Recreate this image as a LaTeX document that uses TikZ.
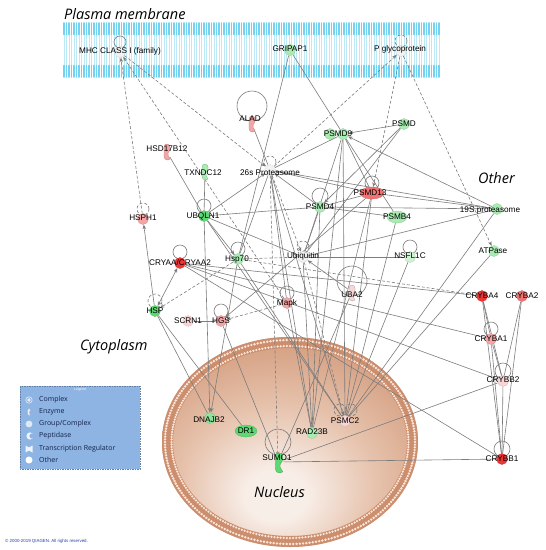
\documentclass[tikz,border=0pt]{standalone}
\usepackage{fontspec}
\setmainfont{Liberation Sans}
\newfontfamily\titlefont{Open Sans}
\usetikzlibrary{arrows.meta,shapes.geometric,calc}
\definecolor{edgegray}{HTML}{7C7C7C}
\definecolor{sgreen}{HTML}{5ED872}
\definecolor{mgreen}{HTML}{8FE39C}
\definecolor{lgreen}{HTML}{A9ECB2}
\definecolor{vlgreen}{HTML}{CDF3D2}
\definecolor{sred}{HTML}{EE3535}
\definecolor{mred}{HTML}{F07272}
\definecolor{lpink}{HTML}{F4A6A6}
\definecolor{vlpink}{HTML}{F9D6D6}
\definecolor{wgray}{HTML}{F2F2F2}
\definecolor{mcyan}{HTML}{6FD3F1}
\definecolor{mlight}{HTML}{BDE9F7}
\definecolor{nucin}{HTML}{F8EEE8}
\definecolor{nucmid}{HTML}{E6C2AC}
\definecolor{nucdark}{HTML}{D39C7D}
\definecolor{nucout}{HTML}{C58565}
\definecolor{nband}{HTML}{CB8E6F}
\definecolor{ndot}{HTML}{FDE6D7}
\definecolor{legfill}{HTML}{8EB4E3}
\definecolor{legtext}{HTML}{14224A}
\pgfdeclareradialshading{nucshade}{\pgfpoint{-3bp}{-14bp}}{color(0bp)=(nucin); color(6bp)=(nucin); color(19bp)=(nucmid); color(33bp)=(nucdark); color(46bp)=(nucout); color(70bp)=(nucout)}
\newcommand\selfloop[4][]{\draw[ln,#1] ([yshift=#4pt]#2.center) circle[radius=#3pt];}
\newcommand\enzyme[3][1]{\fill[#3,draw=#3!75!black,line width=0.3pt,shift={(#2)},scale=#1] (0,-8) .. controls (4,-8) and (4,-2) .. (1,1) .. controls (0,3) and (2,5) .. (3,7) .. controls (1,9) and (-3,8) .. (-3,4) .. controls (-3,1) and (-3,-1) .. (-3,-4) .. controls (-3,-7) and (-2,-8) .. (0,-8) -- cycle;}
\tikzset{
  pc/.style={circle, minimum size=11pt, inner sep=0pt},
  pe/.style={ellipse, minimum width=#1, minimum height=12pt, inner sep=0pt},
  gn/.style={pc, fill=#1, draw=#1!85!black, line width=0.3pt},
  gov/.style={ellipse, minimum height=12pt, inner sep=0pt, fill=#1, draw=#1!85!black, line width=0.3pt},
  lbl/.style={font=\fontsize{8.2}{9}\selectfont, inner sep=0pt},
  ln/.style={draw=edgegray, line width=0.6pt},
  dln/.style={ln, dash pattern=on 3pt off 2pt},
  arr/.style={-{Stealth[length=4.5pt,width=3.6pt]}},
  barr/.style={{Stealth[length=4.5pt,width=3.6pt]}-{Stealth[length=4.5pt,width=3.6pt]}},
  ttl/.style={font=\titlefont\itshape\fontsize{14.5}{16}\selectfont, inner sep=0pt, anchor=base west},
  legt/.style={font=\titlefont\fontsize{7}{8}\selectfont, text=legtext, inner sep=0pt, anchor=west},
}
\begin{document}
\begin{tikzpicture}[x=1pt,y=-1pt]
\useasboundingbox (0,0) rectangle (546,550);
\fill[white] (0,0) rectangle (546,550);
% plasma membrane
\foreach \i in {0,...,150}{
  \draw[mlight, line width=1.0pt] ({64+2.5*\i},33) -- ({64+2.5*\i},67);
  \draw[mcyan, line width=1.9pt, line cap=round] ({64+2.5*\i},23) -- ({64+2.5*\i},34.5);
  \draw[mcyan, line width=1.9pt, line cap=round] ({64+2.5*\i},65.5) -- ({64+2.5*\i},77);
}
% nucleus
\shade[shading=nucshade] (290,442) ellipse [x radius=128pt, y radius=105pt];
\draw[nband, line width=11pt] (290,442) ellipse [x radius=122.5pt, y radius=99.5pt];
\foreach \a in {0,1.5,...,358.5}{
  \fill[ndot] ({290+125*cos(\a)},{442+102*sin(\a)}) circle[radius=1.35pt];
  \fill[ndot] ({290+118.5*cos(\a)},{442+96*sin(\a)}) circle[radius=1.25pt];
}
% legend box
\draw[legfill!70!black, fill=legfill, line width=0.5pt, dash pattern=on 1.5pt off 1pt] (20,386) rectangle (140,469);

% titles
\node[ttl] (tpm) at (64,19) {Plasma membrane};
\node[ttl] (toth) at (478,183) {Other};
\node[ttl] (tcyt) at (80,350) {Cytoplasm};
\node[ttl] (tnuc) at (254,497) {Nucleus};

% anchor nodes (positions of the genes)
\path
 node[pc] (mhc) at (120,52) {}
 node[pc] (pgly) at (401,51) {}
 node[pc] (grip) at (290,50) {}
 node[pc] (alad) at (252,124) {}
 node[pc] (hsd) at (167,152) {}
 node[pc] (txn) at (205,172) {}
 node[pc] (p26) at (270,170) {}
 node[pc] (ubq) at (204,216) {}
 node[pc] (hsph) at (143,219) {}
 node[pc] (psmd9) at (343,134) {}
 node[pc] (psmd) at (404,124) {}
 node[pe=24pt] (psmd13) at (372,193) {}
 node[pc] (psmd4) at (320,207) {}
 node[pe=20pt] (psmb4) at (397,217) {}
 node[pc] (s19) at (497,209) {}
 node[pc] (atp) at (494,251) {}
 node[pc] (nsf) at (410,257) {}
 node[pc] (ubi) at (303,257) {}
 node[pc] (hsp70) at (238,259) {}
 node[pc] (mapk) at (287,303) {}
 node[pc] (uba2) at (352,292) {}
 node[pc] (cryaa) at (180,263) {}
 node[pc] (hsp) at (155,311) {}
 node[pc] (scrn) at (188,321) {}
 node[pc] (hgs) at (221,321) {}
 node[pc] (cba4) at (482,296) {}
 node[pc] (cba2) at (522,296) {}
 node[pc] (cba1) at (491,339) {}
 node[pc] (cbb2) at (503,381) {}
 node[pc] (cbb1) at (502,459) {}
 node[pc] (dnaj) at (210,418) {}
 node[pe=22pt] (dr1) at (246,431) {}
 node[pc] (sumo) at (278,462) {}
 node[pc] (rad) at (312,433) {}
 node[pc] (psmc) at (345,421) {};

% self loops
\selfloop{mhc}{6}{10}
\selfloop[dln]{pgly}{6}{10}
\selfloop{alad}{15}{18}
\selfloop[dln]{p26}{6}{8}
\selfloop{ubq}{7}{10}
\selfloop[dln]{hsph}{6}{10}
\selfloop{psmd13}{7}{10}
\selfloop{psmd4}{8}{11}
\selfloop{nsf}{7}{10}
\selfloop[dln]{ubi}{6}{10}
\selfloop{hsp70}{7}{10}
\selfloop{mapk}{7}{10}
\selfloop{uba2}{15}{11}
\selfloop{cryaa}{7}{11}
\selfloop[dln]{hsp}{7}{10}
\selfloop{hgs}{7}{10}
\selfloop{cba1}{7}{10}
\selfloop{cbb2}{8}{10}
\selfloop{cbb1}{8}{10}
\selfloop{sumo}{13}{20}
\draw[dln] ([xshift=-5pt,yshift=11pt]psmc.center) circle[radius=6pt];
\draw[dln] ([xshift=6pt,yshift=11pt]psmc.center) circle[radius=6pt];
% dashed edges
\draw[dln,arr] (hsph) -- (mhc);
\draw[dln,arr] (mapk) -- (mhc);
\draw[dln,arr] (mhc) -- (p26);
\draw[dln,arr] (p26) -- (pgly);
\draw[dln,arr] (pgly) -- (psmd13);
\draw[dln,arr] (pgly) -- (atp);
\draw[dln,arr] (p26) -- (sumo);
\draw[dln,arr] (p26) -- (ubi);
\draw[dln] (ubi) -- (hsp70);
\draw[dln,arr] (hsp70) -- (hsp);
\draw[dln,arr] (mapk) -- (hgs);
\draw[dln] (hsp70) -- (cba4);
\draw[dln,arr] (ubi) -- (psmc);
% solid edges
\draw[ln] (grip) -- (hsp70);
\draw[ln] (grip) -- (psmd9);
\draw[ln] (alad) -- (p26);
\draw[ln] (hsd) -- (ubq);
\draw[ln] (txn) -- (ubq);
\draw[ln,arr] (ubq) -- (p26);
\draw[ln] (ubq) -- (psmd4);
\draw[ln,arr] (ubq) -- (hsp70);
\draw[ln,arr] (ubq) -- (dnaj);
\draw[ln] (ubq) -- (ubi);
\draw[ln] (ubq) -- (psmc);
\draw[ln,arr] (hsp) -- (hsph);
\draw[ln,barr] (hsp) -- (cryaa);
\draw[ln] (hsp) -- (dnaj);
\draw[ln] (hsp) -- (dr1);
\draw[ln] (cryaa) -- (cba1);
\draw[ln] (cryaa) -- (cbb2);
\draw[ln] (cryaa) -- (cbb1);
\draw[ln] (cryaa) -- (cba4);
\draw[ln] (hgs) -- (scrn);
\draw[ln,arr] (psmd13) -- (hgs);
\draw[ln] (hgs) -- (sumo);
\draw[ln] (p26) -- (psmd9);
\draw[ln] (p26) -- (psmd13);
\draw[ln,arr] (psmd4) -- (p26);
\draw[ln] (p26) -- (s19);
\draw[ln] (p26) -- (psmc);
\draw[ln] (p26) -- (rad);
\draw[ln] (p26) -- (hsp70);
\draw[ln] (p26) -- (mapk);
\draw[ln,arr] (psmd) -- (psmd9);
\draw[ln] (psmd9) -- (psmd13);
\draw[ln] (psmd9) -- (psmb4);
\draw[ln,arr] (s19) -- (psmd9);
\draw[ln] (psmd9) -- (ubi);
\draw[ln] (psmd9) -- (rad);
\draw[ln] (psmd9) -- (psmc);
\draw[ln,arr] (psmd) -- (psmd4);
\draw[ln] (psmd) -- (ubi);
\draw[ln] (psmd13) -- (psmd4);
\draw[ln] (psmd13) -- (s19);
\draw[ln] (psmd13) -- (psmc);
\draw[ln] (psmd13) -- (rad);
\draw[ln] (psmd4) -- (s19);
\draw[ln] (psmd4) -- (psmb4);
\draw[ln] (psmd4) -- (ubi);
\draw[ln] (psmd4) -- (rad);
\draw[ln] (psmb4) -- (psmc);
\draw[ln] (s19) -- (ubi);
\draw[ln] (s19) -- (psmc);
\draw[ln] (atp) -- (psmc);
\draw[ln] (nsf) -- (psmc);
\draw[ln] (nsf) -- (ubi);
\draw[ln] (ubi) -- (rad);
\draw[ln,arr] (uba2) -- (ubi);
\draw[ln] (uba2) -- (sumo);
\draw[ln] (mapk) -- (rad);
\draw[ln,arr] (hsp70) -- (dnaj);
\draw[ln] (hsp70) -- (psmc);
\draw[ln] (cba4) -- (cba1);
\draw[ln] (cba4) -- (cbb2);
\draw[ln] (cba4) -- (cbb1);
\draw[ln] (cba2) -- (cbb2);
\draw[ln] (cba2) -- (cbb1);
\draw[ln] (cba1) -- (cbb1);
\draw[ln] (cba1) -- (cbb2);
\draw[ln] (cbb2) -- (cbb1);
\draw[ln] (cbb2) -- (sumo);
\draw[ln] (cbb1) -- (sumo);

% visible gene shapes
\node[gn=wgray] (mhcS) at (mhc) {};
\node[gn=wgray] (pglyS) at (pgly) {};
\node[gn=lgreen] (gripS) at (grip) {};
\node[gn=wgray, dash pattern=on 1.5pt off 1pt] (p26S) at (p26) {};
\node[gn=sgreen] (ubqS) at (ubq) {};
\node[gn=lpink] (hsphS) at (hsph) {};
\node[gn=lgreen] (psmd9b) at (330,134) {};
\node[gn=lgreen] (psmd9S) at (psmd9) {};
\node[gn=lgreen] (psmdS) at (psmd) {};
\node[gov=mred, minimum width=24pt] (psmd13S) at (psmd13) {};
\node[gn=lgreen] (psmd4S) at (psmd4) {};
\node[gov=lgreen, minimum width=20pt] (psmb4S) at (psmb4) {};
\node[gn=lgreen] (s19S) at (s19) {};
\node[gn=lgreen] (atpS) at (atp) {};
\node[gn=vlgreen] (nsfS) at (nsf) {};
\node[gn=wgray] (ubiS) at (ubi) {};
\node[gn=lgreen] (hsp70S) at (hsp70) {};
\node[gn=lpink] (mapkS) at (mapk) {};
\node[gn=sred] (cryaaS) at (cryaa) {};
\node[gn=sgreen] (hspS) at (hsp) {};
\node[gn=vlpink, dash pattern=on 1.5pt off 1pt] (scrnS) at (scrn) {};
\node[gn=lpink] (hgsS) at (hgs) {};
\node[gn=sred] (cba4S) at (cba4) {};
\node[gn=mred] (cba2S) at (cba2) {};
\node[gn=lpink] (cba1S) at (cba1) {};
\node[gn=vlpink] (cbb2S) at (cbb2) {};
\node[gn=sred] (cbb1S) at (cbb1) {};
\node[gn=mgreen] (dnajS) at (dnaj) {};
\node[gov=sgreen, minimum width=22pt] (dr1S) at (dr1) {};
\node[gn=lgreen] (radS) at (rad) {};
\node[gn=vlpink] (psmcS) at (psmc) {};
\enzyme{252,124}{lpink}
\enzyme{167,152}{lpink}
\enzyme{205,172}{lgreen}
\enzyme{352,293}{vlpink}
\enzyme[1.25]{279,463}{sgreen}

% labels
\node[lbl] (mhcT) at (120,51) {MHC CLASS I (family)};
\node[lbl] (pglyT) at (400,49) {P glycoprotein};
\node[lbl] (gripT) at (290,49) {GRIPAP1};
\node[lbl] (aladT) at (250,119) {ALAD};
\node[lbl] (hsdT) at (167,149) {HSD17B12};
\node[lbl] (txnT) at (203,173) {TXNDC12};
\node[lbl] (p26T) at (270,173) {26s Proteasome};
\node[lbl] (ubqT) at (203,216) {UBQLN1};
\node[lbl] (hsphT) at (143,218) {HSPH1};
\node[lbl] (psmd9T) at (338,134) {PSMD9};
\node[lbl] (psmdT) at (404,124) {PSMD};
\node[lbl] (psmd13T) at (370,193) {PSMD13};
\node[lbl] (psmd4T) at (320,207) {PSMD4};
\node[lbl] (psmb4T) at (397,217) {PSMB4};
\node[lbl] (s19T) at (490,210) {19S proteasome};
\node[lbl] (atpT) at (493,251) {ATPase};
\node[lbl] (nsfT) at (410,256) {NSFL1C};
\node[lbl] (ubiT) at (303,256) {Ubiquitin};
\node[lbl] (hsp70T) at (237,259) {Hsp70};
\node[lbl] (mapkT) at (287,303) {Mapk};
\node[lbl] (uba2T) at (352,295) {UBA2};
\node[lbl] (cryaaT) at (180,263) {CRYAA/CRYAA2};
\node[lbl] (hspT) at (155,311) {HSP};
\node[lbl] (scrnT) at (188,321) {SCRN1};
\node[lbl] (hgsT) at (221,321) {HGS};
\node[lbl] (cba4T) at (482,296) {CRYBA4};
\node[lbl] (cba2T) at (522,296) {CRYBA2};
\node[lbl] (cba1T) at (491,339) {CRYBA1};
\node[lbl] (cbb2T) at (503,380) {CRYBB2};
\node[lbl] (cbb1T) at (502,459) {CRYBB1};
\node[lbl] (dnajT) at (209,420) {DNAJB2};
\node[lbl] (dr1T) at (246,431) {DR1};
\node[lbl] (sumoT) at (277,458) {SUMO1};
\node[lbl] (radT) at (312,432) {RAD23B};
\node[lbl] (psmcT) at (345,421) {PSMC2};

% legend contents
\node[font=\fontsize{3.5}{4}\selectfont, text=white, inner sep=0pt] (legT) at (80,389.5) {Legend};
\draw[white!75!legfill, line width=0.6pt] (29,400) circle[radius=3.2pt];
\fill[white!75!legfill] (29,400) circle[radius=1.8pt];
\enzyme[0.45]{29,412}{white!80!legfill}
\fill[white!70!legfill] (29,424) circle[radius=3.4pt];
\fill[white!85!legfill] (30,436) circle[radius=3.6pt];
\fill[legfill] (32,436) circle[radius=2.6pt];
\fill[white!85!legfill] (25.5,445.5) -- (29,447.5) -- (32.5,445.5) -- (32.5,452.5) -- (29,450.5) -- (25.5,452.5) -- cycle;
\fill[white] (29,460) circle[radius=3.5pt];
\node[legt] (l1) at (39,400) {Complex};
\node[legt] (l2) at (39,412) {Enzyme};
\node[legt] (l3) at (39,424) {Group/Complex};
\node[legt] (l4) at (39,436) {Peptidase};
\node[legt] (l5) at (39,449) {Transcription Regulator};
\node[legt] (l6) at (39,460) {Other};
\node[font=\fontsize{4.4}{5}\selectfont, text={rgb,255:red,40;green,60;blue,170}, anchor=west, inner sep=0pt] (copy) at (5,541) {© 2000-2019 QIAGEN. All rights reserved.};
\end{tikzpicture}
\end{document}
